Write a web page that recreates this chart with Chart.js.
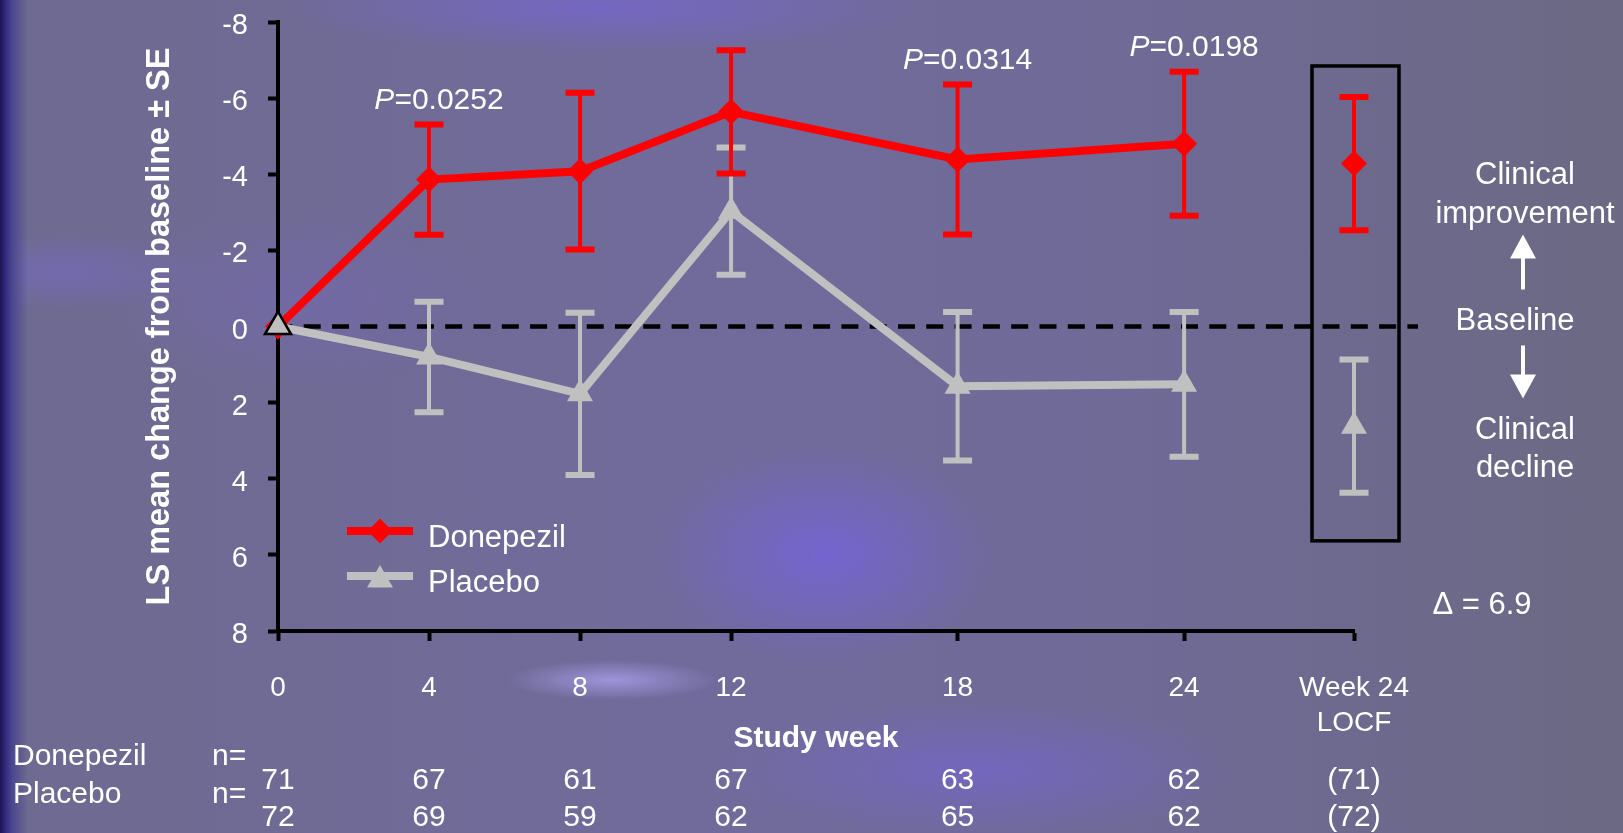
<!DOCTYPE html>
<html>
<head>
<meta charset="utf-8">
<script src="https://cdn.jsdelivr.net/npm/chart.js@4.4.1/dist/chart.umd.min.js"></script>
<style>
html, body { margin: 0; padding: 0; }
body {
  width: 1623px; height: 833px; overflow: hidden;
  background:
    linear-gradient(90deg, #1c1550 0px, #30287a 5px, #4c4690 12px, rgba(112,106,146,0) 28px),
    radial-gradient(ellipse 105px 20px at 612px 680px, rgba(165,155,230,0.85), rgba(165,155,230,0)),
    radial-gradient(ellipse 170px 110px at 825px 555px, rgba(118,98,225,0.75), rgba(118,98,225,0)),
    radial-gradient(ellipse 320px 45px at 600px 8px, rgba(118,102,205,0.8), rgba(118,102,205,0)),
    radial-gradient(ellipse 140px 40px at 60px 272px, rgba(120,105,205,0.5), rgba(120,105,205,0)),
    radial-gradient(ellipse 260px 70px at 980px 770px, rgba(118,100,215,0.6), rgba(118,100,215,0)),
    radial-gradient(ellipse 200px 90px at 300px 300px, rgba(118,104,190,0.4), rgba(118,104,190,0)),
    linear-gradient(90deg, #6f6a90 0%, #716b9c 45%, #6f6a96 70%, #6c6984 100%);
}
#wrap { position: relative; width: 1623px; height: 833px; }
</style>
</head>
<body>
<div id="wrap"><canvas id="lsChart"></canvas></div>
<script>
// study weeks and LS mean change from baseline (negative = improvement)
var weeks = [0, 4, 8, 12, 18, 24];
var donepezilMean = [0, -3.86, -4.08, -5.64, -4.39, -4.80];
var donepezilSE = [null, 1.45, 2.06, 1.62, 1.97, 1.89];
var placeboMean = [0, 0.80, 1.77, -3.03, 1.57, 1.52];
var placeboSE = [null, 1.45, 2.13, 1.67, 1.95, 1.90];

// week 24 LOCF: [donepezil, placebo]
var locfWeek = 28.5;
var locfMean = [-4.28, 2.62];
var locfSE = [1.75, 1.75];

var xTickValues = [0, 4, 8, 12, 18, 24, 28.5];
var xTickLabels = ["0", "4", "8", "12", "18", "24", ["Week 24", "LOCF"]];

var donepezilN = ["71", "67", "61", "67", "63", "62", "(71)"];
var placeboN = ["72", "69", "59", "62", "65", "62", "(72)"];

var pWeeks = [4, 18, 24];
var pValues = ["=0.0252", "=0.0314", "=0.0198"];
var deltaText = "\u0394 = 6.9";

var RED = "#ff0000";
var GREY = "#c0c0c0";
var FONT = "'Liberation Sans', Arial, sans-serif";

function points(xs, ys) {
  return xs.map(function (x, i) { return { x: x, y: ys[i] }; });
}

function diamond(ctx, x, y, r) {
  ctx.beginPath();
  ctx.moveTo(x - r, y); ctx.lineTo(x, y - r); ctx.lineTo(x + r, y); ctx.lineTo(x, y + r);
  ctx.closePath(); ctx.fill();
}
function triangle(ctx, x, y, r) {
  var s = r * Math.sin(Math.PI / 3);
  ctx.beginPath();
  ctx.moveTo(x, y - r); ctx.lineTo(x + s, y + r / 2); ctx.lineTo(x - s, y + r / 2);
  ctx.closePath(); ctx.fill();
}

// dashed baseline + LOCF box, under the data
var backdrop = {
  id: "backdrop",
  beforeDatasetsDraw: function (chart) {
    var ctx = chart.ctx, xs = chart.scales.x, ys = chart.scales.y, a = chart.chartArea;
    var y0 = ys.getPixelForValue(0);
    ctx.save();
    ctx.strokeStyle = "#000";
    ctx.lineWidth = 4.5;
    ctx.setLineDash([17, 11.3]);
    ctx.lineDashOffset = 2.6;
    ctx.beginPath(); ctx.moveTo(a.left, y0); ctx.lineTo(a.right + 64, y0); ctx.stroke();
    ctx.setLineDash([]);
    var lx = xs.getPixelForValue(locfWeek);
    var top = ys.getPixelForValue(locfMean[0] - locfSE[0]) - 31;
    var bot = ys.getPixelForValue(locfMean[1] + locfSE[1]) + 48;
    ctx.lineWidth = 3.5;
    ctx.strokeRect(lx - 42, top, 87, bot - top);
    ctx.restore();
  }
};

// SE error bars, drawn over the lines (placebo first, donepezil on top)
var errorBars = {
  id: "errorBars",
  afterDatasetsDraw: function (chart) {
    var ctx = chart.ctx, xs = chart.scales.x, ys = chart.scales.y;
    [3, 1, 2, 0].forEach(function (di) {
      var ds = chart.data.datasets[di];
      ctx.save();
      ctx.strokeStyle = ds.borderColor;
      ds.data.forEach(function (p, i) {
        var se = ds.errors[i];
        if (!se) return;
        var x = xs.getPixelForValue(p.x);
        var yt = ys.getPixelForValue(p.y - se);
        var yb = ys.getPixelForValue(p.y + se);
        ctx.lineWidth = 4;
        ctx.beginPath(); ctx.moveTo(x, yt); ctx.lineTo(x, yb); ctx.stroke();
        ctx.lineWidth = 6;
        ctx.beginPath();
        ctx.moveTo(x - 14.5, yt); ctx.lineTo(x + 14.5, yt);
        ctx.moveTo(x - 14.5, yb); ctx.lineTo(x + 14.5, yb);
        ctx.stroke();
      });
      ctx.restore();
    });
  }
};

// legend, p-values, n table, side notes
var notes = {
  id: "notes",
  afterDraw: function (chart) {
    var ctx = chart.ctx, xs = chart.scales.x, ys = chart.scales.y, a = chart.chartArea;
    var y0 = ys.getPixelForValue(0);
    ctx.save();
    ctx.fillStyle = "#fff";

    // p-values above the donepezil error bars
    ctx.textBaseline = "middle";
    pWeeks.forEach(function (w, k) {
      var i = weeks.indexOf(w);
      var x = xs.getPixelForValue(w) + 10;
      var y = ys.getPixelForValue(donepezilMean[i] - donepezilSE[i]) - 24;
      ctx.font = "italic 30px " + FONT;
      var wp = ctx.measureText("P").width;
      ctx.font = "30px " + FONT;
      var wr = ctx.measureText(pValues[k]).width;
      var sx = x - (wp + wr) / 2;
      ctx.textAlign = "left";
      ctx.font = "italic 30px " + FONT;
      ctx.fillText("P", sx, y);
      ctx.font = "30px " + FONT;
      ctx.fillText(pValues[k], sx + wp, y);
    });

    // legend
    var sets = chart.data.datasets;
    var lx = a.left + 70, rows = [531, 576];
    [0, 1].forEach(function (di, k) {
      var ds = sets[di], y = rows[k];
      ctx.strokeStyle = ds.borderColor;
      ctx.fillStyle = ds.borderColor;
      ctx.lineWidth = 8;
      ctx.beginPath(); ctx.moveTo(lx - 1, y); ctx.lineTo(lx + 65, y); ctx.stroke();
      if (ds.pointStyle === "rectRot") diamond(ctx, lx + 32, y, 12.5);
      else triangle(ctx, lx + 32, y + 4, 15);
      ctx.fillStyle = "#fff";
      ctx.font = "31px " + FONT;
      ctx.textAlign = "left";
      ctx.textBaseline = "alphabetic";
      ctx.fillText(ds.label, lx + 80, y + 16);
    });

    // n table
    ctx.font = "30px " + FONT;
    ctx.textBaseline = "alphabetic";
    ctx.textAlign = "left";
    ctx.fillText("Donepezil", 13, 765);
    ctx.fillText("Placebo", 13, 803);
    ctx.fillText("n=", 212, 765);
    ctx.fillText("n=", 212, 803);
    ctx.textAlign = "center";
    xTickValues.forEach(function (v, i) {
      var x = xs.getPixelForValue(v);
      ctx.fillText(donepezilN[i], x, 789);
      ctx.fillText(placeboN[i], x, 826);
    });

    // side notes
    var cx = 1525;
    ctx.font = "31px " + FONT;
    ctx.textBaseline = "middle";
    ctx.fillText("Clinical", cx, y0 - 151);
    ctx.fillText("improvement", cx, y0 - 112);
    ctx.fillText("Baseline", cx - 10, y0 - 5);
    ctx.fillText("Clinical", cx, y0 + 104);
    ctx.fillText("decline", cx, y0 + 142);
    ctx.fillText(deltaText, 1482, y0 + 279);

    ctx.strokeStyle = "#fff";
    ctx.lineWidth = 4;
    ctx.beginPath();
    ctx.moveTo(cx - 2, y0 - 37); ctx.lineTo(cx - 2, y0 - 78);
    ctx.moveTo(cx - 2, y0 + 19); ctx.lineTo(cx - 2, y0 + 57);
    ctx.stroke();
    ctx.beginPath();
    ctx.moveTo(cx - 2, y0 - 92); ctx.lineTo(cx + 11, y0 - 68); ctx.lineTo(cx - 15, y0 - 68); ctx.closePath();
    ctx.fill();
    ctx.beginPath();
    ctx.moveTo(cx - 2, y0 + 72); ctx.lineTo(cx + 11, y0 + 48); ctx.lineTo(cx - 15, y0 + 48); ctx.closePath();
    ctx.fill();
    ctx.restore();
  }
};

var ctx = document.getElementById("lsChart").getContext("2d");

var data = {
  datasets: [
    {
      label: "Donepezil",
      data: points(weeks, donepezilMean),
      errors: donepezilSE,
      borderColor: RED,
      backgroundColor: RED,
      borderWidth: 8,
      pointStyle: "rectRot",
      pointRadius: 13,
      pointBorderWidth: 0,
      clip: false,
      order: 1,
    },
    {
      label: "Placebo",
      data: points(weeks, placeboMean),
      errors: placeboSE,
      borderColor: GREY,
      backgroundColor: GREY,
      borderWidth: 8,
      pointStyle: "triangle",
      pointRadius: 15,
      pointBorderColor: ["#000", GREY, GREY, GREY, GREY, GREY],
      pointBorderWidth: [2.5, 0, 0, 0, 0, 0],
      clip: false,
      order: 0,
    },
    {
      label: "Donepezil LOCF",
      data: [{ x: locfWeek, y: locfMean[0] }],
      errors: [locfSE[0]],
      borderColor: RED,
      backgroundColor: RED,
      showLine: false,
      pointStyle: "rectRot",
      pointRadius: 13,
      pointBorderWidth: 0,
      clip: false,
      order: 1,
    },
    {
      label: "Placebo LOCF",
      data: [{ x: locfWeek, y: locfMean[1] }],
      errors: [locfSE[1]],
      borderColor: GREY,
      backgroundColor: GREY,
      showLine: false,
      pointStyle: "triangle",
      pointRadius: 15,
      pointBorderWidth: 0,
      clip: false,
      order: 0,
    },
  ],
};

var options = {
  responsive: true,
  maintainAspectRatio: false,
  animation: false,
  events: [],
  layout: { autoPadding: false, padding: { left: 0, top: 22, right: 269, bottom: 0 } },
  plugins: {
    legend: { display: false },
    tooltip: { enabled: false },
  },
  scales: {
    x: {
      type: "linear",
      min: 0,
      max: locfWeek,
      afterBuildTicks: function (scale) {
        scale.ticks = xTickValues.map(function (v) { return { value: v }; });
      },
      afterFit: function (scale) {
        scale.height = 202;
        scale.paddingLeft = 0;
        scale.paddingRight = 0;
      },
      grid: { drawOnChartArea: false, drawTicks: true, tickLength: 10, tickWidth: 4, tickColor: "#000" },
      border: { display: true, color: "#000", width: 4 },
      ticks: {
        autoSkip: false,
        maxRotation: 0,
        padding: 29,
        color: "#fff",
        font: { family: FONT, size: 28, lineHeight: 1.28 },
        callback: function (value) { return xTickLabels[xTickValues.indexOf(value)]; },
      },
      title: {
        display: true,
        text: "Study week",
        color: "#fff",
        font: { family: FONT, size: 30, weight: "bold" },
        padding: { top: 0, bottom: 76 },
      },
    },
    y: {
      type: "linear",
      reverse: true,
      min: -8,
      max: 8,
      afterFit: function (scale) {
        scale.width = 278;
        scale.paddingTop = 0;
        scale.paddingBottom = 0;
      },
      grid: { drawOnChartArea: false, drawTicks: true, tickLength: 10, tickWidth: 4, tickColor: "#000" },
      border: { display: true, color: "#000", width: 4 },
      ticks: {
        stepSize: 2,
        padding: 20,
        labelOffset: 4,
        color: "#fff",
        font: { family: FONT, size: 29 },
      },
      title: {
        display: true,
        text: "LS mean change from baseline \u00b1 SE",
        color: "#fff",
        font: { family: FONT, size: 32.5, weight: "bold" },
        padding: { top: 141, bottom: 0 },
      },
    },
  },
};

var lsChart = new Chart(ctx, {
  type: "line",
  data: data,
  options: options,
  plugins: [backdrop, errorBars, notes],
});
</script>
</body>
</html>
